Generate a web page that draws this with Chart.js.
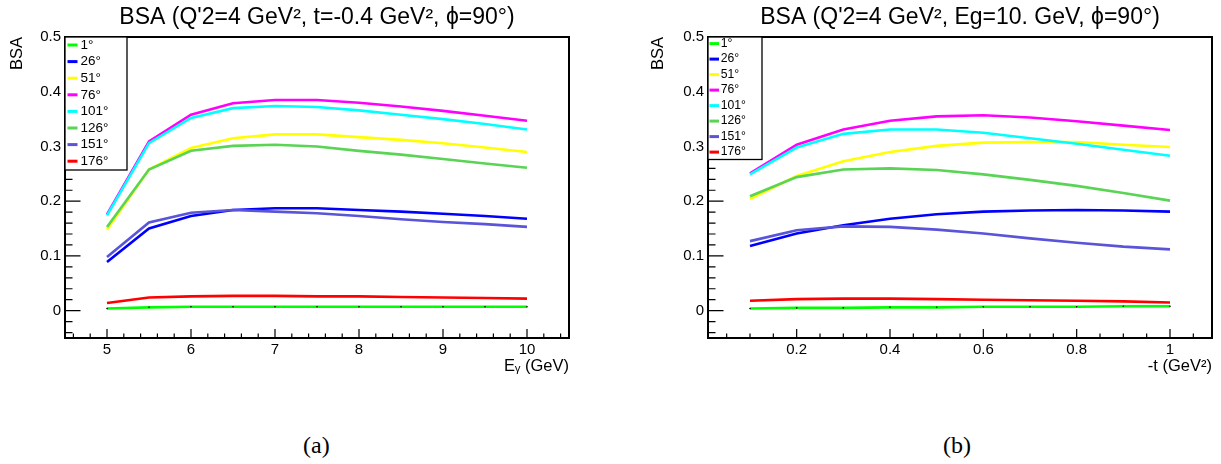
<!DOCTYPE html>
<html><head><meta charset="utf-8">
<script src="https://cdn.jsdelivr.net/npm/chart.js@4.4.1/dist/chart.umd.min.js"></script>
<style>
html,body{margin:0;padding:0;background:#fff;width:1221px;height:464px;overflow:hidden;position:relative}
canvas{position:absolute;top:0}
#ca{left:0}
#cb{left:610px}
.cap{position:absolute;font-family:"Liberation Serif","Times New Roman",serif;font-size:24px;line-height:1;top:433px;color:#000}
</style></head><body>
<canvas id="ca" width="610" height="400"></canvas>
<canvas id="cb" width="611" height="400"></canvas>
<div class="cap" style="left:303px">(a)</div>
<div class="cap" style="left:943px">(b)</div>
<script>
// ---------- data ----------
const seriesLabels = ['1°','26°','51°','76°','101°','126°','151°','176°'];
const seriesColors = ['#00ff00','#0000ff','#ffff00','#ff00ff','#00ffff','#59d454','#5954d8','#ff0000'];

// panel (a): BSA vs E_gamma
const egamma = [5,5.5,6,6.5,7,7.5,8,8.5,9,9.5,10];
const bsaE_1   = [0.004,0.006,0.007,0.007,0.007,0.007,0.007,0.007,0.007,0.007,0.007];
const bsaE_26  = [0.089,0.150,0.173,0.184,0.187,0.187,0.184,0.181,0.177,0.173,0.168];
const bsaE_51  = [0.148,0.258,0.297,0.315,0.322,0.322,0.317,0.312,0.306,0.298,0.290];
const bsaE_76  = [0.176,0.309,0.358,0.379,0.385,0.385,0.380,0.373,0.365,0.356,0.347];
const bsaE_101 = [0.174,0.306,0.352,0.370,0.374,0.372,0.366,0.358,0.350,0.341,0.331];
const bsaE_126 = [0.153,0.258,0.292,0.301,0.303,0.300,0.292,0.285,0.277,0.269,0.261];
const bsaE_151 = [0.098,0.161,0.179,0.184,0.181,0.178,0.173,0.167,0.162,0.158,0.153];
const bsaE_176 = [0.014,0.024,0.026,0.027,0.027,0.026,0.026,0.025,0.024,0.023,0.022];

// panel (b): BSA vs -t
const minusT = [0.1,0.2,0.3,0.4,0.5,0.6,0.7,0.8,0.9,1.0];
const bsaT_1   = [0.004,0.005,0.005,0.006,0.006,0.007,0.007,0.007,0.008,0.008];
const bsaT_26  = [0.118,0.141,0.156,0.168,0.176,0.181,0.183,0.184,0.183,0.181];
const bsaT_51  = [0.204,0.246,0.273,0.290,0.301,0.307,0.308,0.308,0.303,0.299];
const bsaT_76  = [0.251,0.303,0.331,0.347,0.355,0.357,0.353,0.346,0.338,0.330];
const bsaT_101 = [0.249,0.298,0.323,0.331,0.331,0.325,0.315,0.305,0.294,0.283];
const bsaT_126 = [0.209,0.244,0.258,0.260,0.257,0.249,0.239,0.228,0.215,0.201];
const bsaT_151 = [0.127,0.147,0.154,0.153,0.148,0.141,0.132,0.124,0.117,0.112];
const bsaT_176 = [0.018,0.021,0.022,0.022,0.021,0.020,0.019,0.018,0.017,0.015];

// ticks
const yTicks = [0,0.1,0.2,0.3,0.4,0.5];
const yTickLabels = ['0','0.1','0.2','0.3','0.4','0.5'];
const xTicksA = [5,6,7,8,9,10];
const xTickLabelsA = ['5','6','7','8','9','10'];
const xTicksB = [0.2,0.4,0.6,0.8,1];
const xTickLabelsB = ['0.2','0.4','0.6','0.8','1'];

const titleA = "BSA (Q'2=4 GeV², t=-0.4 GeV², ϕ=90°)";
const titleB = "BSA (Q'2=4 GeV², Eg=10. GeV, ϕ=90°)";
const xTitleA = 'Eᵧ (GeV)';
const xTitleB = '-t (GeV²)';
const yTitle = 'BSA';

// ---------- helpers ----------
const FONT = '"Liberation Sans", Arial, Helvetica, sans-serif';

function makeDatasets(xs, series) {
  return series.map((ys, i) => ({
    label: seriesLabels[i],
    data: xs.map((x, j) => ({x: x, y: ys[j]})),
    borderColor: seriesColors[i],
    backgroundColor: seriesColors[i],
    borderWidth: 2.6,
    tension: 0,
    fill: false,
    pointRadius: i === 0 ? 0.8 : 0,
    pointBackgroundColor: '#000',
    pointBorderWidth: 0,
    order: series.length - i
  }));
}

const rootPlugin = {
  id: 'rootStyle',
  afterLayout(chart) {
    const t = chart.titleBlock, a = chart.chartArea;
    if (t && a) { t.left = a.left; t.right = a.right; t.width = a.right - a.left; }
  },
  afterDraw(chart, args, o) {
    const ctx = chart.ctx, a = chart.chartArea;
    const xs = chart.scales.x, ys = chart.scales.y;
    ctx.save();
    ctx.strokeStyle = '#000';
    // ticks (inside the frame, ROOT style)
    ctx.lineWidth = 1.2;
    ctx.beginPath();
    for (const v of o.xMinor) { const p = xs.getPixelForValue(v); ctx.moveTo(p, a.bottom); ctx.lineTo(p, a.bottom - o.xMinorLen); }
    for (const v of o.xMajor) { const p = xs.getPixelForValue(v); ctx.moveTo(p, a.bottom); ctx.lineTo(p, a.bottom - o.xMajorLen); }
    for (const v of o.yMinor) { const p = ys.getPixelForValue(v); ctx.moveTo(a.left, p); ctx.lineTo(a.left + o.yMinorLen, p); }
    for (const v of o.yMajor) { const p = ys.getPixelForValue(v); ctx.moveTo(a.left, p); ctx.lineTo(a.left + o.yMajorLen, p); }
    ctx.stroke();
    // frame
    ctx.lineWidth = 2;
    ctx.strokeRect(a.left, a.top, a.right - a.left, a.bottom - a.top);
    // legend box
    const L = o.legend;
    ctx.fillStyle = '#fff';
    ctx.fillRect(a.left, a.top, L.w, L.h);
    ctx.lineWidth = 1.3;
    ctx.strokeRect(a.left, a.top, L.w, L.h);
    ctx.font = L.fontSize + 'px ' + FONT;
    ctx.textBaseline = 'middle';
    ctx.textAlign = 'left';
    chart.data.datasets.forEach((d, i) => {
      const y = a.top + L.first + i * L.step;
      ctx.strokeStyle = d.borderColor;
      ctx.lineWidth = 3;
      ctx.beginPath();
      ctx.moveTo(a.left + L.s0, y); ctx.lineTo(a.left + L.s1, y);
      ctx.stroke();
      ctx.fillStyle = '#000';
      ctx.fillText(d.label, a.left + L.tx, y);
    });
    ctx.restore();
  }
};

function range(from, to, step, skip) {
  const out = [];
  for (let k = 0; ; k++) { const v = +(from + k * step).toFixed(6); if (v > to + 1e-9) break; if (!skip.some(s => Math.abs(s - v) < 1e-9)) out.push(v); }
  return out;
}

function buildChart(id, p) {
  return new Chart(document.getElementById(id), {
    type: 'line',
    data: { datasets: makeDatasets(p.xs, p.series) },
    plugins: [rootPlugin],
    options: {
      responsive: false,
      animation: false,
      events: [],
      layout: { padding: { left: 0, right: p.padRight, top: 0, bottom: 0 } },
      plugins: {
        legend: { display: false },
        tooltip: { enabled: false },
        title: { display: true, text: p.title, color: '#000',
                 font: { family: FONT, size: 23, weight: 'normal' },
                 padding: { top: 3.7, bottom: 5.7 } },
        rootStyle: {
          xMajor: p.xTicks, xMinor: p.xMinor, yMajor: yTicks, yMinor: range(-0.04, 0.48, 0.02, yTicks),
          xMajorLen: 9, xMinorLen: 4.5, yMajorLen: 15.5, yMinorLen: 7.5,
          legend: p.legend
        }
      },
      scales: {
        x: {
          type: 'linear', min: p.xMin, max: p.xMax,
          afterBuildTicks: s => { s.ticks = p.xTicks.map(v => ({ value: v })); },
          ticks: { callback: (v, i) => p.xTickLabels[i], color: '#000', font: { family: FONT, size: 15 },
                   padding: 3, maxRotation: 0, autoSkip: false },
          grid: { display: false, drawTicks: false }, border: { display: false },
          title: { display: true, text: p.xTitle, align: 'end', color: '#000',
                   font: { family: FONT, size: 16.5 }, padding: { top: 0, bottom: 24 } },
          afterFit: s => { s.height = 62; }
        },
        y: {
          type: 'linear', min: -0.05, max: 0.5,
          afterBuildTicks: s => { s.ticks = yTicks.map(v => ({ value: v })); },
          ticks: { callback: (v, i) => yTickLabels[i], color: '#000', font: { family: FONT, size: 15 }, padding: 4 },
          grid: { display: false, drawTicks: false }, border: { display: false },
          title: { display: true, text: yTitle, align: 'end', color: '#000',
                   font: { family: FONT, size: 16.5 }, padding: { top: p.yTitlePad, bottom: 0 } },
          afterFit: s => { s.width = p.yWidth; }
        }
      }
    }
  });
}

buildChart('ca', {
  xs: egamma,
  series: [bsaE_1, bsaE_26, bsaE_51, bsaE_76, bsaE_101, bsaE_126, bsaE_151, bsaE_176],
  title: titleA, xTitle: xTitleA,
  xMin: 4.5, xMax: 10.5, xTicks: xTicksA, xTickLabels: xTickLabelsA,
  xMinor: range(4.6, 10.4, 0.2, xTicksA),
  padRight: 41, yWidth: 65, yTitlePad: 7.5,
  legend: { w: 62, h: 133, first: 8, step: 16.6, s0: 2.5, s1: 12.5, tx: 15.5, fontSize: 13.5 }
});

buildChart('cb', {
  xs: minusT,
  series: [bsaT_1, bsaT_26, bsaT_51, bsaT_76, bsaT_101, bsaT_126, bsaT_151, bsaT_176],
  title: titleB, xTitle: xTitleB,
  xMin: 0.01, xMax: 1.09, xTicks: xTicksB, xTickLabels: xTickLabelsB,
  xMinor: range(0.05, 1.05, 0.05, xTicksB),
  padRight: 9, yWidth: 98, yTitlePad: 39,
  legend: { w: 54, h: 122.5, first: 6.6, step: 15.5, s0: 1.5, s1: 11, tx: 12.7, fontSize: 12.2 }
});
</script>
</body></html>
